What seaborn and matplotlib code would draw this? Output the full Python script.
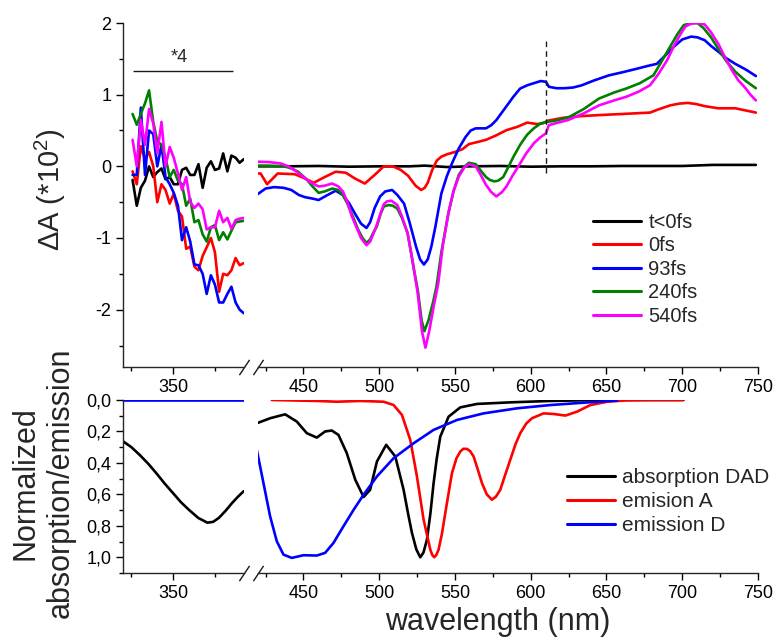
import numpy as np
import pandas as pd
import matplotlib
matplotlib.use("Agg")
import matplotlib.pyplot as plt
import seaborn as sns
from matplotlib.ticker import MultipleLocator, FuncFormatter
from matplotlib.lines import Line2D

# ---------------- data ----------------
series_names = ["t<0fs", "0fs", "93fs", "240fs", "540fs"]
series_colors = ["#000000", "#ff0000", "#0000ff", "#008000", "#ff00ff"]

# transient absorption, left (UV) segment, common wavelength grid
wl_left = [325.7, 328.2, 330.6, 333.1, 335.5, 338.0, 340.4, 342.9, 345.3, 347.8,
           350.2, 352.7, 355.1, 357.6, 360.0, 362.5, 364.9, 367.4, 369.8, 372.3,
           374.7, 377.2, 379.6, 382.1, 384.5, 387.0, 389.4, 391.9]
ta_left_neg = [-0.19, -0.55, -0.30, -0.20, 0.00, -0.15, -0.08, -0.03, -0.18, -0.15,
               -0.25, -0.25, -0.05, -0.02, -0.12, -0.12, 0.03, -0.30, -0.02, 0.07,
               -0.05, -0.03, 0.18, -0.07, 0.15, 0.12, 0.05, 0.10]
ta_left_0 = [-0.07, -0.25, 0.28, 0.10, 0.20, 0.00, -0.50, -0.25, -0.33, -0.52,
             -0.38, -0.62, -0.70, -1.15, -1.12, -1.40, -1.45, -1.25, -1.13, -1.00,
             -1.20, -1.75, -1.50, -1.52, -1.45, -1.28, -1.38, -1.35]
ta_left_93 = [-0.12, -0.12, 0.82, -0.12, 0.50, 0.45, 0.00, 0.30, -0.15, -0.25,
              -0.37, -0.55, -1.03, -0.85, -1.05, -1.37, -1.38, -1.50, -1.78, -1.52,
              -1.65, -1.90, -1.90, -1.78, -1.68, -1.90, -2.00, -2.05]
ta_left_240 = [0.73, 0.58, 0.73, 0.88, 1.06, 0.62, 0.35, 0.30, 0.12, -0.15,
               -0.05, -0.20, -0.25, -0.55, -0.45, -0.78, -0.75, -0.95, -1.05, -0.85,
               -0.82, -1.03, -0.92, -1.02, -0.90, -0.78, -0.77, -0.76]
ta_left_540 = [0.37, 0.00, 0.65, 0.30, 0.80, 0.60, 0.18, 0.62, 0.00, 0.27,
               0.12, -0.10, -0.33, -0.15, -0.50, -0.58, -0.52, -0.60, -0.88, -0.85,
               -0.85, -0.62, -0.78, -0.72, -0.87, -0.75, -0.73, -0.72]

# transient absorption, right (visible) segment
wl_r_neg = [419, 440, 460, 480, 500, 520, 530, 545, 560, 580, 600, 620, 640, 660,
            680, 700, 720, 740, 748.6]
ta_r_neg = [0.0, 0.0, 0.005, -0.005, 0.0, 0.0, 0.01, -0.01, 0.0, 0.005, -0.005, 0.0,
            0.0, 0.005, 0.005, 0.005, 0.02, 0.02, 0.02]

wl_r_0 = [419, 421.7, 426, 433, 444.3, 450, 456.7, 464, 471.3, 478, 484, 490.5, 497, 503,
          509, 514.2, 519, 524, 527.7, 530, 532, 535, 538, 541, 545, 550, 555, 559.2,
          565, 570.5, 577, 584, 591, 597.6, 604.3, 608, 611, 617, 622.4, 633, 645,
          660, 678.7, 685, 692, 698, 703.5, 709, 714.8, 723.8, 735, 748.6]
ta_r_0 = [-0.10, -0.10, -0.25, -0.10, -0.11, -0.16, -0.23, -0.15, -0.075, -0.09, -0.17, -0.24,
          -0.12, 0.0, 0.0, -0.05, -0.13, -0.27, -0.33, -0.30, -0.23, -0.05, 0.08, 0.135,
          0.17, 0.20, 0.24, 0.31, 0.34, 0.37, 0.43, 0.505, 0.55, 0.61, 0.59, 0.60, 0.635,
          0.66, 0.68, 0.70, 0.715, 0.73, 0.75, 0.80, 0.85, 0.875, 0.885, 0.87, 0.84,
          0.81, 0.81, 0.75]

wl_r_93 = [419, 425, 430.7, 437, 442, 447, 451, 456, 460, 465, 471.3, 476, 480.3, 484,
           488, 491.6, 494, 497, 500.6, 504, 508.5, 512, 516.4, 520, 524.3, 527, 529.5,
           532, 534.4, 537, 541, 544.6, 548, 552.5, 557, 560.4, 563.7, 570.5, 574,
           577.3, 583, 588.5, 593, 597.6, 602, 606.6, 610, 612, 617, 622.4, 628, 633.6,
           642, 651.7, 660, 669.7, 677, 683.2, 689, 694.5, 700, 705.8, 710, 714.8, 719,
           723.8, 729, 735, 742, 748.6]
ta_r_93 = [-0.40, -0.31, -0.29, -0.30, -0.33, -0.40, -0.43, -0.45, -0.47, -0.41, -0.34,
           -0.40, -0.52, -0.66, -0.80, -0.86, -0.78, -0.58, -0.42, -0.35, -0.33, -0.40,
           -0.52, -0.78, -1.12, -1.30, -1.37, -1.30, -1.12, -0.85, -0.38, -0.14, 0.04,
           0.25, 0.41, 0.50, 0.53, 0.53, 0.575, 0.645, 0.81, 0.97, 1.085, 1.13, 1.16,
           1.19, 1.18, 1.11, 1.09, 1.09, 1.10, 1.13, 1.20, 1.27, 1.31, 1.36, 1.40, 1.43,
           1.55, 1.67, 1.77, 1.81, 1.80, 1.76, 1.68, 1.60, 1.51, 1.43, 1.35, 1.26]

wl_r_240 = [419, 427, 437.5, 442, 446.5, 452, 456, 460, 464, 469, 473, 476, 479, 482.6,
            486, 489, 491.6, 494, 496, 498.4, 501, 503, 506.3, 509, 512, 515, 518.7, 521,
            523, 525.4, 528, 529.8, 532.5, 535.5, 537.8, 541, 545.7, 549, 552.5, 556,
            559.2, 563.7, 567, 570.5, 573, 576, 578.5, 581.8, 585, 588.5, 593, 597.6,
            602, 606.6, 611, 617, 624.6, 635, 645, 655, 663, 672, 681, 686, 692, 697,
            701, 705.8, 710, 714, 719, 723.8, 729, 735, 742, 748.6]
ta_r_240 = [0.01, 0.01, 0.0, -0.03, -0.075, -0.18, -0.28, -0.37, -0.35, -0.31, -0.33, -0.40,
            -0.52, -0.70, -0.88, -1.00, -1.07, -1.02, -0.93, -0.84, -0.66, -0.56, -0.54,
            -0.55, -0.59, -0.72, -0.93, -1.20, -1.45, -1.72, -2.15, -2.30, -2.15, -1.90,
            -1.68, -1.20, -0.65, -0.35, -0.12, -0.01, 0.05, 0.03, -0.06, -0.15, -0.19,
            -0.21, -0.20, -0.15, -0.02, 0.13, 0.30, 0.44, 0.53, 0.60, 0.62, 0.64, 0.68,
            0.80, 0.945, 1.03, 1.085, 1.16, 1.27, 1.45, 1.67, 1.85, 1.97, 2.0, 2.0, 1.93,
            1.80, 1.64, 1.47, 1.32, 1.19, 1.09]

wl_r_540 = [419, 427, 435, 440, 444, 450, 455, 460, 464, 469, 473, 476, 479, 482, 485, 488,
            491.6, 494, 496, 498, 501, 503, 505, 508, 512, 515, 518.7, 521, 523, 525.4,
            528.2, 530.5, 533, 536, 539, 542, 545.7, 549, 552.5, 556, 559.2, 563.7, 567,
            570.5, 574, 577.3, 581, 584, 588, 593, 597, 602, 606, 610, 612, 618, 624.6,
            635, 645, 655, 663, 671, 678.7, 684, 690, 695, 699, 702, 705.8, 710, 714.8,
            719, 723.8, 728, 732.8, 737, 741.8, 745, 748.6]
ta_r_540 = [0.065, 0.06, 0.04, 0.0, -0.05, -0.15, -0.23, -0.28, -0.27, -0.24, -0.28, -0.35,
            -0.50, -0.70, -0.85, -1.00, -1.10, -1.05, -0.95, -0.84, -0.65, -0.53, -0.49,
            -0.48, -0.54, -0.70, -0.93, -1.20, -1.45, -1.77, -2.30, -2.53, -2.30, -1.95,
            -1.63, -1.10, -0.65, -0.35, -0.145, -0.02, 0.03, 0.0, -0.12, -0.26, -0.36,
            -0.42, -0.36, -0.28, -0.13, 0.04, 0.18, 0.32, 0.40, 0.46, 0.575, 0.61, 0.645,
            0.74, 0.85, 0.92, 0.97, 1.04, 1.13, 1.28, 1.48, 1.70, 1.85, 1.95, 1.99, 2.0,
            1.98, 1.87, 1.71, 1.53, 1.34, 1.20, 1.09, 1.00, 0.92]

# steady-state spectra (normalized)
ss_names = ["absorption DAD", "emision A", "emission D"]
ss_colors = ["#000000", "#ff0000", "#0000ff"]

wl_abs_left = [320.2, 325, 330, 335, 339.8, 344.7, 349.6, 354.5, 359.4, 364.8, 370.2,
               373.6, 377, 381, 384.9, 388.4, 391.8]
abs_left = [0.264, 0.30, 0.35, 0.405, 0.465, 0.53, 0.59, 0.65, 0.70, 0.75, 0.78, 0.775,
            0.75, 0.705, 0.655, 0.615, 0.58]
wl_emD_left = [320.2, 356, 391.8]
emD_left = [0.0, 0.0, 0.0]

wl_abs_right = [419.2, 428, 437.9, 445.6, 452.2, 458.8, 464.3, 468.7, 473.1, 478.6,
                484.2, 489.7, 494, 498.5, 504.6, 510.6, 516.1, 519, 521.6, 524.5,
                527.1, 529.2, 531.5, 533.8, 535.9, 538, 540.3, 545.8, 553.5, 564.5,
                586.5, 613, 635, 660, 700.8]
abs_right = [0.148, 0.116, 0.091, 0.137, 0.211, 0.239, 0.20, 0.194, 0.222, 0.338,
             0.507, 0.617, 0.571, 0.391, 0.285, 0.359, 0.571, 0.72, 0.845, 0.95,
             1.0, 0.97, 0.888, 0.72, 0.528, 0.37, 0.233, 0.106, 0.047, 0.025,
             0.015, 0.006, 0.002, 0.0, 0.0]

wl_emA = [429.1, 458.8, 472, 487.5, 502.9, 509.5, 515, 520.5, 524.9, 529.3,
          533.7, 535, 536.3, 537.7, 539.2, 541.4, 543.6, 546, 548, 551, 553.5,
          555.5, 557.9, 560, 562.3, 565, 567.8, 571, 574.4, 577, 579.9, 583, 586.5,
          590, 593.1, 597, 600.8, 608.5, 615.2, 622.9, 630.6, 639.4, 650.4,
          663.6, 680, 700.8]
emA = [0.0, 0.006, 0.011, 0.006, 0.011, 0.032, 0.095, 0.254, 0.486, 0.761,
       0.951, 0.985, 1.0, 0.985, 0.951, 0.85, 0.719, 0.58, 0.465, 0.37, 0.328,
       0.31, 0.311, 0.325, 0.359, 0.44, 0.528, 0.60, 0.634, 0.615, 0.571, 0.48, 0.38,
       0.28, 0.211, 0.15, 0.116, 0.085, 0.089, 0.099, 0.074, 0.032, 0.011,
       0.002, 0.0, 0.0]

wl_emD_right = [419.2, 423.6, 428, 432.4, 436.8, 442.3, 450, 458.8, 464.3, 469.8,
                476.4, 483.1, 489.7, 498.5, 509.5, 522.7, 535.9, 551.3, 568.9, 590.9,
                613, 635, 652.6, 657]
emD_right = [0.317, 0.528, 0.74, 0.898, 0.983, 1.004, 0.987, 0.989, 0.972, 0.909,
             0.803, 0.698, 0.602, 0.486, 0.37, 0.275, 0.19, 0.127, 0.085, 0.053,
             0.032, 0.017, 0.006, 0.004]

gap_wavelength = 610      # dashed line where the two probe ranges join
scale_note = "*4"

# ---------------- style ----------------
sns.set_theme(style="ticks")
plt.rcParams['font.family'] = ['Liberation Sans', 'DejaVu Sans']
plt.rcParams['mathtext.fontset'] = 'custom'
plt.rcParams['mathtext.rm'] = 'Liberation Sans'
plt.rcParams['mathtext.it'] = 'Liberation Sans:italic'
plt.rcParams['mathtext.bf'] = 'Liberation Sans:bold'
plt.rcParams['axes.unicode_minus'] = False
plt.rcParams['axes.linewidth'] = 1.0
plt.rcParams['xtick.color'] = 'black'
plt.rcParams['ytick.color'] = 'black'

W, H = 775, 642
fig = plt.figure(figsize=(W / 100, H / 100), dpi=100)

def px_axes(x0, y0, x1, y1):
    return fig.add_axes([x0 / W, 1 - y1 / H, (x1 - x0) / W, (y1 - y0) / H])

ax_tl = px_axes(123, 23, 244, 367)
ax_tr = px_axes(258, 23, 758, 367)
ax_bl = px_axes(123, 400, 244, 573)
ax_br = px_axes(258, 400, 758, 573)

LW = 1.9

def draw(ax, xs, ys, names, colors):
    frames = [pd.DataFrame({"wl": x, "val": y, "series": n}) for x, y, n in zip(xs, ys, names)]
    df = pd.concat(frames, ignore_index=True)
    sns.lineplot(data=df, x="wl", y="val", hue="series", hue_order=names,
                 palette=colors, estimator=None, sort=False, linewidth=LW,
                 legend=False, ax=ax)
    ax.set_xlabel("")
    ax.set_ylabel("")

left_ta = [ta_left_neg, ta_left_0, ta_left_93, ta_left_240, ta_left_540]
draw(ax_tl, [wl_left] * 5, left_ta, series_names, series_colors)
draw(ax_tr, [wl_r_neg, wl_r_0, wl_r_93, wl_r_240, wl_r_540],
     [ta_r_neg, ta_r_0, ta_r_93, ta_r_240, ta_r_540], series_names, series_colors)
draw(ax_bl, [wl_abs_left, wl_emD_left], [abs_left, emD_left],
     [ss_names[0], ss_names[2]], [ss_colors[0], ss_colors[2]])
draw(ax_br, [wl_abs_right, wl_emA, wl_emD_right], [abs_right, emA, emD_right],
     ss_names, ss_colors)

for ax in (ax_tl, ax_tr):
    ax.set_ylim(-2.8, 2.0)
for ax in (ax_bl, ax_br):
    ax.set_ylim(1.1, 0.0)
for ax in (ax_tl, ax_bl):
    ax.set_xlim(320, 392)
for ax in (ax_tr, ax_br):
    ax.set_xlim(420, 750)

for ax in (ax_tl, ax_tr, ax_bl, ax_br):
    ax.spines['top'].set_visible(False)
    ax.spines['right'].set_visible(False)
    ax.xaxis.set_major_locator(MultipleLocator(50))
    ax.xaxis.set_minor_locator(MultipleLocator(25))
    ax.tick_params(which='major', direction='out', length=5, width=1, labelsize=13, pad=3.5)
    ax.tick_params(which='minor', direction='out', length=3, width=1)
    ax.set_facecolor('white')

for ax in (ax_tr, ax_br):
    ax.spines['left'].set_visible(False)
    ax.tick_params(axis='y', which='both', left=False, labelleft=False)

ax_tl.yaxis.set_major_locator(MultipleLocator(1))
ax_tl.yaxis.set_minor_locator(MultipleLocator(0.5))
ax_bl.yaxis.set_major_locator(MultipleLocator(0.2))
ax_bl.yaxis.set_minor_locator(MultipleLocator(0.1))
ax_bl.yaxis.set_major_formatter(FuncFormatter(lambda v, p: f"{v:.1f}".replace('.', ',')))

# axis breaks
brk = dict(marker=[(-1, -1.5), (1, 1.5)], markersize=11, linestyle='none',
           color='k', mec='k', mew=1, clip_on=False)
for ax_l, ax_r in ((ax_tl, ax_tr), (ax_bl, ax_br)):
    ax_l.plot([1], [0], transform=ax_l.transAxes, **brk)
    ax_r.plot([0], [0], transform=ax_r.transAxes, **brk)

# dashed join line
ax_tr.vlines(gap_wavelength, -0.1, 1.77, colors='k', linestyles=(0, (4, 3)), linewidth=1)

# "*4" marker over the UV part
ax_tl.hlines(1.33, 325.9, 385.3, colors='k', linewidth=1)
ax_tl.text(353.5, 1.40, scale_note, ha='center', va='bottom', fontsize=13)

# legends
h_top = [Line2D([], [], color=c, lw=2.2) for c in series_colors]
fig.legend(h_top, series_names, loc='upper left', bbox_to_anchor=(593 / W, 1 - 213 / H),
           frameon=False, fontsize=14.5, handlelength=2.4, handletextpad=0.35,
           labelspacing=0.22, borderpad=0, borderaxespad=0)
h_bot = [Line2D([], [], color=c, lw=2.2) for c in ss_colors]
fig.legend(h_bot, ss_names, loc='upper left', bbox_to_anchor=(567 / W, 1 - 468 / H),
           frameon=False, fontsize=15, handlelength=2.3, handletextpad=0.35,
           labelspacing=0.25, borderpad=0, borderaxespad=0)

# axis titles
fig.text(50 / W, 1 - 190 / H, "ΔA (*10$^2$)", rotation=90, ha='center', va='center', fontsize=21)
fig.text(43 / W, 1 - 483 / H, "Normalized\nabsorption/emission", rotation=90,
         ha='center', va='center', multialignment='center', fontsize=22, linespacing=1.25)
fig.text(498 / W, 1 - 622 / H, "wavelength (nm)", ha='center', va='center', fontsize=22)

fig.savefig("out.png", dpi=100, facecolor='white')
